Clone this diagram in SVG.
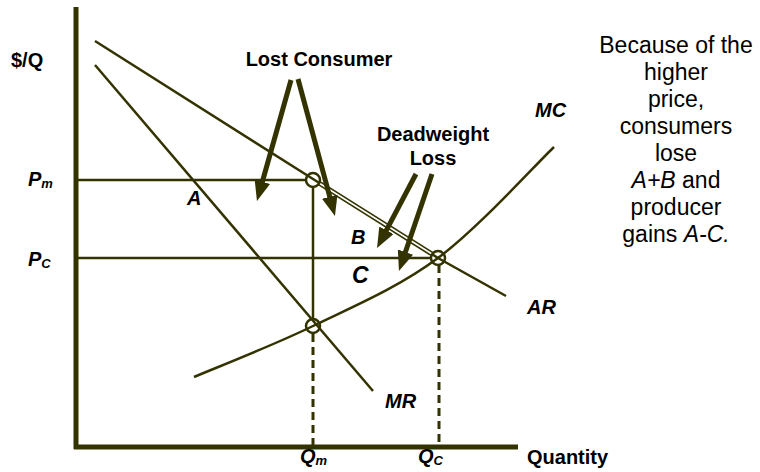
<svg xmlns="http://www.w3.org/2000/svg" width="760" height="472" viewBox="0 0 760 472">
<defs>
<style>
.ln{fill:none;stroke:#333300;stroke-width:2.5}
.ax{fill:none;stroke:#333300;stroke-width:5}
.dash{fill:none;stroke:#333300;stroke-width:3;stroke-dasharray:8 5}
.pt{fill:none;stroke:#333300;stroke-width:2.5}
.arr{fill:none;stroke:#333300;stroke-width:5;marker-end:url(#head)}
text{font-family:"Liberation Sans",Arial,sans-serif;fill:#000}
.b{font-weight:bold;font-size:20px}
.bi{font-weight:bold;font-style:italic;font-size:20px}
.sub{font-weight:bold;font-style:italic;font-size:13px}
.note{font-size:23px;text-anchor:middle}
</style>
<marker id="head" viewBox="0 0 20 16" refX="1" refY="8" markerWidth="20" markerHeight="16" markerUnits="userSpaceOnUse" orient="auto">
<path d="M0,0 L20,8 L0,16 z" fill="#333300"/>
</marker>
</defs>
<g id="axes">
<line class="ax" x1="76" y1="7" x2="76" y2="449"/>
<line class="ax" x1="74" y1="447" x2="518" y2="447"/>
</g>
<g id="curves">
<polyline id="AR" class="ln" points="95,41 313,179 438,258 506,296"/>
<line id="AR-double" x1="319" y1="183" x2="432" y2="254" stroke="#333300" stroke-width="5"/>
<line x1="319" y1="183" x2="432" y2="254" stroke="#fff" stroke-width="1.5"/>
<line id="MR" class="ln" x1="95" y1="65" x2="373" y2="391"/>
<path id="MC" class="ln" d="M194,377 C213.8,368.5 272.3,345.8 313,326 C353.7,306.2 397.8,287.8 438,258 C478.2,228.2 534.7,165.5 554,147"/>
</g>
<g id="guides">
<line class="ln" x1="76" y1="180" x2="306" y2="180"/>
<line class="ln" x1="76" y1="258" x2="431" y2="258"/>
<line class="ln" x1="313" y1="187" x2="313" y2="319"/>
<line class="dash" x1="313" y1="334" x2="313" y2="447"/>
<line class="dash" x1="439" y1="265" x2="439" y2="447"/>
</g>
<g id="points">
<circle class="pt" cx="313" cy="180" r="7"/>
<circle class="pt" cx="313" cy="326" r="7"/>
<circle class="pt" cx="438" cy="258" r="7"/>
</g>
<g id="connectors">
<line class="arr" x1="291" y1="80" x2="262.1" y2="182.7"/>
<line class="arr" x1="298" y1="79" x2="330" y2="197.7"/>
<line class="arr" x1="416" y1="174" x2="385.9" y2="231.2"/>
<line class="arr" x1="432" y1="174" x2="405.1" y2="253"/>
</g>
<g id="labels">
<text class="b" x="11" y="67">$/Q</text>
<text class="bi" x="28" y="186">P<tspan class="sub" dy="2">m</tspan></text>
<text class="bi" x="28" y="266">P<tspan class="sub" dy="2">C</tspan></text>
<text class="b" x="319" y="66" text-anchor="middle">Lost Consumer</text>
<text class="b" x="433" y="141" text-anchor="middle">Deadweight</text>
<text class="b" x="433" y="165" text-anchor="middle">Loss</text>
<text class="bi" x="535" y="117">MC</text>
<text class="bi" x="187" y="205">A</text>
<text class="bi" x="351" y="244">B</text>
<text class="bi" x="352" y="283" style="font-size:23px">C</text>
<text class="bi" x="527" y="314">AR</text>
<text class="bi" x="385" y="408">MR</text>
<text class="bi" x="300" y="463">Q<tspan class="sub" dy="2">m</tspan></text>
<text class="bi" x="418" y="463">Q<tspan class="sub" dy="2">C</tspan></text>
<text class="b" x="527" y="464">Quantity</text>
</g>
<g id="note">
<text class="note" x="676" y="53">Because of the</text>
<text class="note" x="676" y="80">higher</text>
<text class="note" x="676" y="107">price,</text>
<text class="note" x="676" y="134">consumers</text>
<text class="note" x="676" y="161">lose</text>
<text class="note" x="676" y="188"><tspan font-style="italic">A+B</tspan> and</text>
<text class="note" x="676" y="215">producer</text>
<text class="note" x="676" y="242">gains <tspan font-style="italic">A-C.</tspan></text>
</g>
</svg>
